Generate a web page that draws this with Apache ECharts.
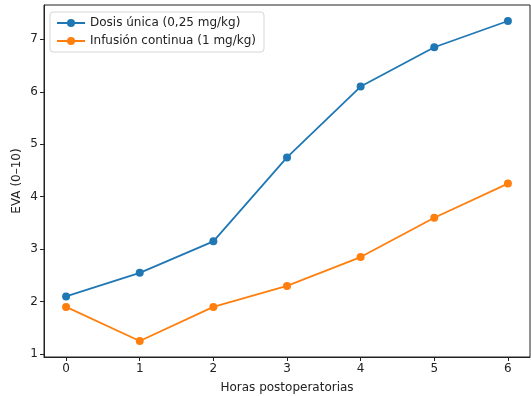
<!DOCTYPE html>
<html>
<head>
<meta charset="utf-8">
<script src="https://cdn.jsdelivr.net/npm/echarts@6/dist/echarts.min.js"></script>
<style>
  html, body { margin: 0; padding: 0; background: #fff; }
  #chart { width: 531px; height: 396px; }
</style>
</head>
<body>
<div id="chart"></div>
<script>
// Datos
const hours = [0, 1, 2, 3, 4, 5, 6];
const dosisUnica = [2.1, 2.55, 3.15, 4.75, 6.1, 6.85, 7.35];
const infusionContinua = [1.9, 1.25, 1.9, 2.3, 2.85, 3.6, 4.25];
const yTicks = [1, 2, 3, 4, 5, 6, 7];
const seriesNames = ["Dosis única (0,25 mg/kg)", "Infusión continua (1 mg/kg)"];
const colors = ["#1f77b4", "#ff7f0e"];

const font = "DejaVu Sans";
const chart = echarts.init(document.getElementById("chart"));

const pairs = (ys) => hours.map((h, i) => [h, ys[i]]);

chart.setOption({
  animation: false,
  textStyle: { fontFamily: font },
  grid: {
    left: 44, top: 5, right: 1, bottom: 39,
    outerBoundsMode: "none",
    containLabel: false,
    show: true, borderColor: "#222", borderWidth: 1
  },
  legend: {
    orient: "vertical",
    left: 50, top: 12,
    padding: [5, 8, 5, 6],
    itemGap: 6,
    itemWidth: 28, itemHeight: 10,
    borderColor: "#d6d6d6", borderWidth: 1, borderRadius: 3,
    backgroundColor: "rgba(255,255,255,0.8)",
    textStyle: { fontFamily: font, fontSize: 12, color: "#222" },
    data: seriesNames
  },
  xAxis: {
    type: "value",
    min: -0.3, max: 6.3,
    name: "Horas postoperatorias",
    nameLocation: "middle",
    nameGap: 25,
    nameMoveOverlap: false,
    nameTextStyle: { fontFamily: font, fontSize: 12, color: "#222" },
    axisLine: { show: true, onZero: false, lineStyle: { color: "#222" } },
    axisTick: { show: true, length: 4, customValues: hours, lineStyle: { color: "#222" } },
    axisLabel: { customValues: hours, fontFamily: font, fontSize: 12, color: "#222", margin: 6 },
    splitLine: { show: false }
  },
  yAxis: {
    type: "value",
    min: 0.945, max: 7.655,
    name: "EVA (0–10)",
    nameLocation: "middle",
    nameGap: 21,
    nameMoveOverlap: false,
    nameTextStyle: { fontFamily: font, fontSize: 12, color: "#222" },
    axisLine: { show: true, onZero: false, lineStyle: { color: "#222" } },
    axisTick: { show: true, length: 4, customValues: yTicks, lineStyle: { color: "#222" } },
    axisLabel: { customValues: yTicks, fontFamily: font, fontSize: 12, color: "#222", margin: 6 },
    splitLine: { show: false }
  },
  series: [
    {
      name: seriesNames[0],
      type: "line",
      data: pairs(dosisUnica),
      symbol: "circle", symbolSize: 8,
      lineStyle: { width: 1.8, color: colors[0] },
      itemStyle: { color: colors[0] }
    },
    {
      name: seriesNames[1],
      type: "line",
      data: pairs(infusionContinua),
      symbol: "circle", symbolSize: 8,
      lineStyle: { width: 1.8, color: colors[1] },
      itemStyle: { color: colors[1] }
    }
  ]
});
</script>
</body>
</html>
